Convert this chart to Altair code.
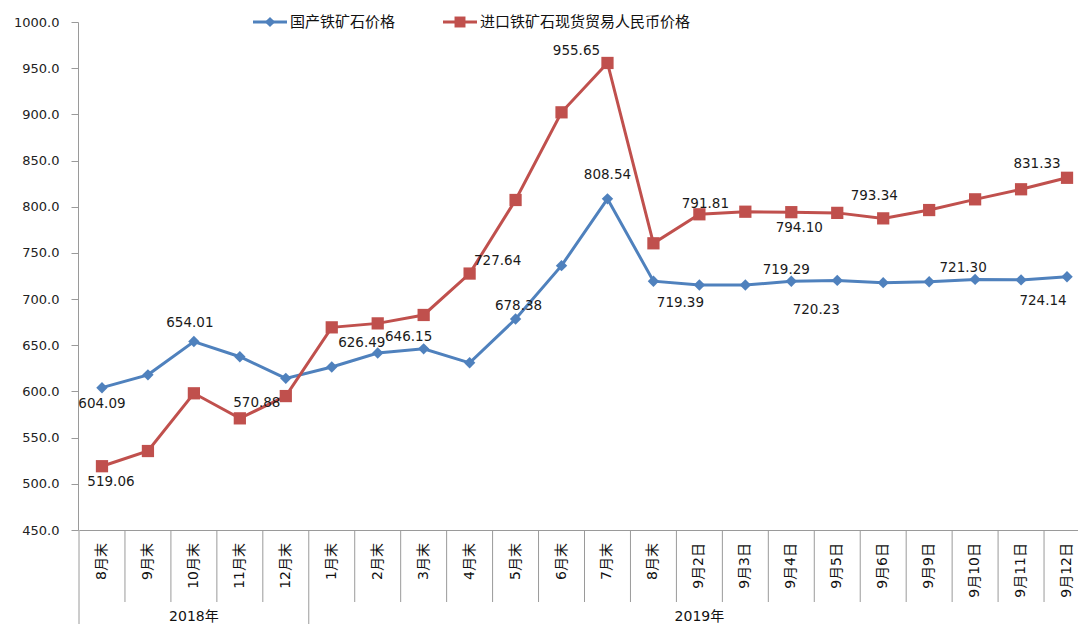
import altair as alt
import pandas as pd

# ---------------- data ----------------
categories = ["8月末", "9月末", "10月末", "11月末", "12月末", "1月末", "2月末", "3月末",
              "4月末", "5月末", "6月末", "7月末", "8月末", "9月2日", "9月3日", "9月4日",
              "9月5日", "9月6日", "9月9日", "9月10日", "9月11日", "9月12日"]
years = ["2018年", "2019年"]
year_sizes = [5, 17]

series_names = ["国产铁矿石价格", "进口铁矿石现货贸易人民币价格"]
domestic = [604.09, 618.0, 654.01, 637.6, 614.2, 626.49, 641.6, 646.15, 631.0, 678.38,
            736.2, 808.54, 719.39, 715.2, 715.2, 719.29, 720.23, 717.8, 718.8, 721.30,
            720.8, 724.14]
imported = [519.06, 535.5, 598.0, 570.88, 595.0, 669.4, 673.7, 682.8, 727.64, 807.3,
            902.2, 955.65, 760.4, 791.81, 794.6, 794.10, 793.34, 787.4, 796.4, 808.0,
            818.9, 831.33]
y_ticks = [450, 500, 550, 600, 650, 700, 750, 800, 850, 900, 950, 1000]

domestic_label_idx = [0, 2, 5, 7, 9, 11, 12, 15, 16, 19, 21]
imported_label_idx = [0, 3, 8, 11, 13, 15, 16, 21]

# ---------------- styles ----------------
colors = ["#4F81BD", "#C0504D"]
shapes = ["diamond", "square"]
sizes = [130, 150]
label_offsets = [
    {0: (0, 16), 2: (-4, -19), 5: (30, -24), 7: (-15, -12), 9: (3, -13), 11: (0, -24),
     12: (27, 22), 15: (-5, -11), 16: (-21, 30), 19: (-12, -11), 21: (-24, 24)},
    {0: (9, 16), 3: (17, -15), 8: (28, -13), 11: (-31, -12), 13: (6, -10), 15: (8, 16),
     16: (37, -17), 21: (-30, -14)},
]
legend_pos = [(175, 209, 192, 212), (365, 399, 382, 402)]
NUM_FONT = "DejaVu Sans"
CJK_FONT = "DejaVu Sans, Noto Sans CJK SC"
GRAY = "#9a9a9a"

W, H = 1000, 508

n = len(categories)
x_scale = alt.Scale(domain=[-0.5, n - 0.5], range=[1, 1012], nice=False, zero=False)
x_enc = alt.X("idx:Q", scale=x_scale,
              axis=alt.Axis(title=None, labels=False, ticks=False, grid=False,
                            domainColor=GRAY, domainWidth=1))
y_scale = alt.Scale(domain=[450, 1000], nice=False, zero=False)
y_enc = alt.Y("value:Q", scale=y_scale,
              axis=alt.Axis(title=None, values=y_ticks, format=".1f", grid=False,
                            tickSize=7, tickColor=GRAY, domainColor=GRAY,
                            labelFont=NUM_FONT, labelFontSize=13, labelColor="#222222",
                            labelPadding=12))

layers = []

# category table dividers
group_bounds = [-0.5]
for s in year_sizes:
    group_bounds.append(group_bounds[-1] + s)
div_df = pd.DataFrame({"b": [i - 0.5 for i in range(n + 1)]})
div_df["long"] = div_df["b"].isin(group_bounds)
short_df = div_df[~div_df["long"]]
long_df = div_df[div_df["long"]]
layers.append(alt.Chart(short_df).mark_rule(color=GRAY, strokeWidth=1).encode(
    x=alt.X("b:Q", scale=x_scale), y=alt.value(H), y2=alt.value(H + 72)))
layers.append(alt.Chart(long_df).mark_rule(color=GRAY, strokeWidth=1).encode(
    x=alt.X("b:Q", scale=x_scale), y=alt.value(H), y2=alt.value(H + 100)))

# category labels
cat_df = pd.DataFrame({"idx": list(range(n)), "cat": categories})
layers.append(alt.Chart(cat_df).mark_text(angle=270, align="right", baseline="middle",
                                          font=CJK_FONT, fontSize=14, color="#111111").encode(
    x=alt.X("idx:Q", scale=x_scale), y=alt.value(H + 13), text="cat:N"))

# year labels
centers = [(group_bounds[k] + group_bounds[k + 1]) / 2 for k in range(len(years))]
year_df = pd.DataFrame({"c": centers, "year": years})
layers.append(alt.Chart(year_df).mark_text(align="center", baseline="middle",
                                           font=CJK_FONT, fontSize=14, color="#111111").encode(
    x=alt.X("c:Q", scale=x_scale), y=alt.value(H + 87), text="year:N"))

# series
for k, vals in enumerate([domestic, imported]):
    df = pd.DataFrame({"idx": list(range(n)), "cat": categories, "value": vals,
                       "series": series_names[k]})
    base = alt.Chart(df)
    layers.append(base.mark_line(color=colors[k], strokeWidth=3).encode(x=x_enc, y=y_enc))
    layers.append(base.mark_point(shape=shapes[k], filled=True, opacity=1, size=sizes[k],
                                  color=colors[k]).encode(x=x_enc, y=y_enc))
    lab_idx = [domestic_label_idx, imported_label_idx][k]
    for i in lab_idx:
        dx, dy = label_offsets[k][i]
        layers.append(alt.Chart(df[df["idx"] == i]).mark_text(
            dx=dx, dy=dy, font=NUM_FONT, fontSize=13.5, color="#1a1a1a",
            align="center", baseline="middle").encode(
            x=alt.X("idx:Q", scale=x_scale), y=alt.Y("value:Q", scale=y_scale),
            text=alt.Text("value:Q", format=".2f")))

    # legend entry
    x0, x1, xm, xt = legend_pos[k]
    leg_df = pd.DataFrame({"name": [series_names[k]]})
    lb = alt.Chart(leg_df)
    layers.append(lb.mark_rule(color=colors[k], strokeWidth=3).encode(
        x=alt.value(x0), x2=alt.value(x1), y=alt.value(0)))
    layers.append(lb.mark_point(shape=shapes[k], filled=True, opacity=1, size=sizes[k] * 0.8,
                                color=colors[k]).encode(x=alt.value(xm), y=alt.value(0)))
    layers.append(lb.mark_text(align="left", baseline="middle", font="Noto Sans CJK SC",
                               fontSize=15, color="#111111").encode(
        x=alt.value(xt), y=alt.value(0), text="name:N"))

chart = alt.layer(*layers).properties(
    width=W, height=H,
    autosize=alt.AutoSizeParams(type="none"),
    padding={"left": 70, "top": 14, "right": 0, "bottom": 94},
    background="white",
).configure_view(stroke=None)

chart.save("out.html", embed_options={"renderer": "svg", "actions": False})
